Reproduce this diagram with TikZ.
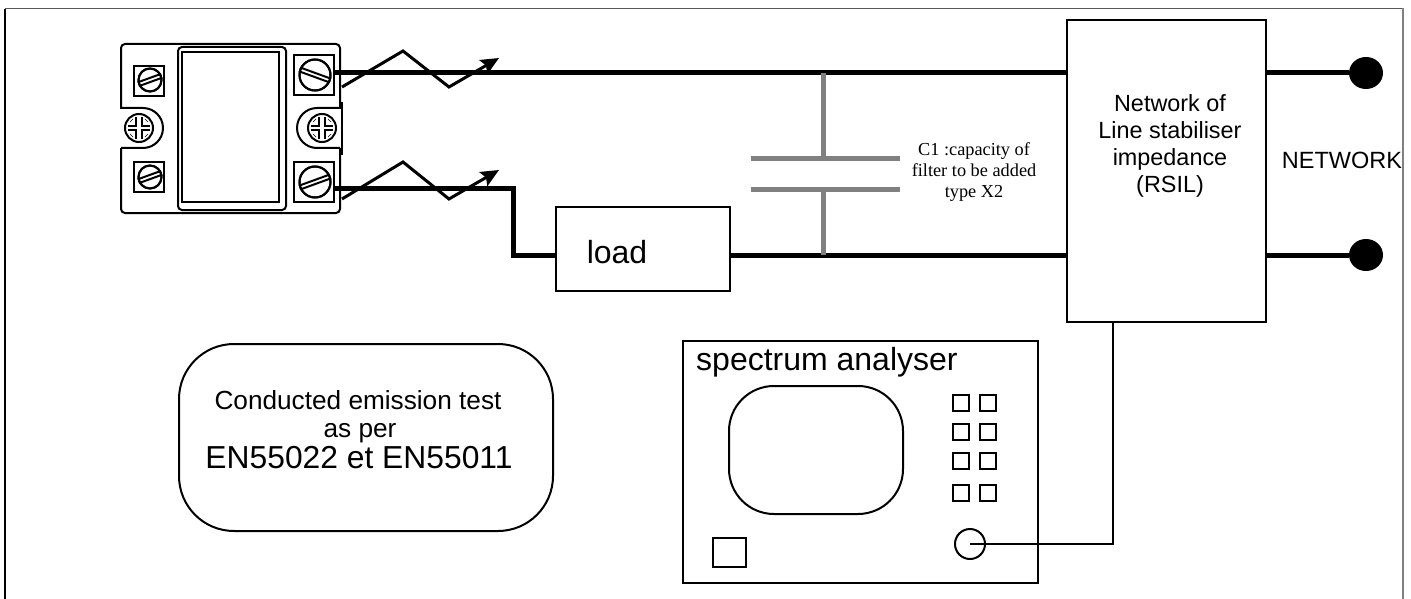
\documentclass[tikz,border=0pt]{standalone}
\usepackage{fontspec}
\setmainfont{Liberation Sans}
\newfontfamily\serifc{Liberation Serif}
\usetikzlibrary{arrows.meta,shapes.geometric}
\definecolor{capgray}{HTML}{808080}
\tikzset{
 x=1pt,y=-1pt,
 box/.style={draw=black,line width=2.2pt,fill=white,inner sep=0pt},
 wire/.style={line width=5pt,black},
 zig/.style={line width=3pt,black,line join=miter,-{Stealth[length=18pt,width=16pt,inset=3pt]}},
 capline/.style={line width=5pt,capgray},
 keybox/.style={draw=black,line width=2pt,fill=white,inner sep=0pt,minimum width=16pt,minimum height=16pt},
 dot/.style={ellipse,fill=black,inner sep=0pt,minimum width=34pt,minimum height=32pt},
 lbl/.style={font=\fontsize{23.4}{27}\selectfont,align=center,inner sep=0pt},
}
\newcommand{\slotscrew}[4]{% x y r angle
 \draw[line width=2pt,fill=white] (#1,#2) circle[radius=#3];
 \draw[line width=2pt,fill=white,rotate around={#4:(#1,#2)}] (#1-#3,#2-2) rectangle (#1+#3,#2+2);
 \draw[line width=2pt] (#1,#2) circle[radius=#3];
}
\newcommand{\crossscrew}[2]{% x y
 \draw[line width=2pt,fill=white] (#1,#2) circle[radius=14];
 \draw[line width=1.2pt] (#1-11,#2-2) -- (#1-3,#2-2) -- (#1-3,#2-11) (#1+3,#2-11) -- (#1+3,#2-2) -- (#1+11,#2-2)
   (#1-11,#2+2) -- (#1-3,#2+2) -- (#1-3,#2+11) (#1+3,#2+11) -- (#1+3,#2+2) -- (#1+11,#2+2);
 \draw[line width=.7pt] (#1+6,#2-9) -- (#1+9,#2-6) (#1-6,#2-9) -- (#1-9,#2-6) (#1+6,#2+9) -- (#1+9,#2+6) (#1-6,#2+9) -- (#1-9,#2+6);
}
\begin{document}
\begin{tikzpicture}
\useasboundingbox (0,0) rectangle (1411,599);
\fill[white] (0,0) rectangle (1411,599);
\draw[line width=1.4pt,black] (5,599) -- (5,9);
\draw[line width=1.6pt,black!65] (5,8.5) -- (1403,8.5);
\draw[line width=2pt,capgray] (1403,8) -- (1403,599);
% device
\draw[line width=2pt,rounded corners=4pt,fill=white] (121,44) rectangle (340,213);
\draw[line width=2pt,rounded corners=4pt,fill=white] (178,47) rectangle (286,210);
\draw[line width=2.4pt] (182,52) rectangle (279,202);
\draw[line width=2.4pt] (134,66) rectangle (164,96);
\draw[line width=2.4pt] (134,162) rectangle (164,192);
\draw[line width=2.4pt] (294,55) rectangle (334,95);
\draw[line width=2.4pt] (294,162) rectangle (334,202);
\slotscrew{150}{80}{11.5}{20}
\slotscrew{150}{177}{11.5}{20}
\slotscrew{315}{75}{15.5}{-20}
\slotscrew{315}{182}{15.5}{20}
\fill[white] (120,109) rectangle (143,148);
\draw[line width=2pt] (121,108) -- (143,108) arc[start angle=-90,end angle=90,radius=20] -- (121,148);
\fill[white] (317,109) rectangle (341,148);
\draw[line width=2pt] (340,108) -- (317,108) arc[start angle=-90,end angle=-270,radius=20] -- (340,148);
\draw[line width=2.4pt] (342,102) -- (342,155);
\crossscrew{139}{128}
\crossscrew{322}{128}
% named parts
\node[box,minimum width=199pt,minimum height=302pt] (rsil) at (1166.5,171) {};
\node[lbl] (rsiltext) at (1170,146) {Network of\\Line stabiliser\\impedance\\(RSIL)};
\node[box,minimum width=174pt,minimum height=84pt] (load) at (643,249) {};
\node[font=\fontsize{32}{36}\selectfont,inner sep=0pt] (loadtext) at (617,252) {load};
\node[dot] (n1) at (1366,73) {};
\node[dot] (n2) at (1366,255) {};
\node[font=\fontsize{23.5}{26}\selectfont,inner sep=0pt] (nettext) at (1342,160) {NETWORK};
\coordinate (dev1) at (334,73);
\coordinate (dev2) at (334,188);
\coordinate (bend1) at (513,188);
\coordinate (bend2) at (513,255);
% wires
\draw[wire] (dev1) -- (rsil.west |- dev1);
\draw[wire] (rsil.east |- n1) -- (n1);
\draw[wire] (rsil.east |- n2) -- (n2);
\draw[wire,line join=miter] (dev2) -- (bend1) -- (bend2) -- (load.west |- bend2);
\draw[wire] (load.east |- n2) -- (rsil.west |- n2);
% capacitor
\coordinate (capt) at (823,73);
\coordinate (capb) at (823,255);
\coordinate (p1l) at (751,159);
\coordinate (p1r) at (900,159);
\coordinate (p2l) at (751,189);
\coordinate (p2r) at (900,189);
\draw[capline] (capt) -- (capt |- p1l);
\draw[capline] (capb) -- (capb |- p2l);
\draw[capline] (p1l) -- (p1r);
\draw[capline] (p2l) -- (p2r);
\node[font=\fontsize{18.3}{21}\selectfont\serifc,align=center,inner sep=0pt] (c1text) at (974,172) {C1 :capacity of\\filter to be added\\type X2};
% zigzags
\coordinate (z1a) at (342,87); \coordinate (z1b) at (403,51); \coordinate (z1c) at (449,87); \coordinate (z1d) at (499,58);
\coordinate (z2a) at (342,199); \coordinate (z2b) at (403,162); \coordinate (z2c) at (449,199); \coordinate (z2d) at (499,170);
\draw[zig] (z1a) -- (z1b) -- (z1c) -- (z1d);
\draw[zig] (z2a) -- (z2b) -- (z2c) -- (z2d);
% note
\node[draw=black,line width=2pt,rounded corners=55pt,minimum width=374pt,minimum height=187pt] (note) at (366,437.5) {};
\node[font=\fontsize{26.2}{30}\selectfont,inner sep=0pt] (t1) at (358,400) {Conducted emission test};
\node[font=\fontsize{26.2}{30}\selectfont,inner sep=0pt] (t2) at (360,433) {as per};
\node[font=\fontsize{31.8}{36}\selectfont,inner sep=0pt] (t3) at (359,458) {EN55022 et EN55011};
% analyser
\node[box,minimum width=355pt,minimum height=242pt] (sa) at (860.5,462) {};
\node[font=\fontsize{32}{36}\selectfont,inner sep=0pt,anchor=west] (satext) at (696,362) {spectrum analyser};
\node[draw=black,line width=2pt,rounded corners=45pt,minimum width=174pt,minimum height=128pt] (screen) at (816,450) {};
\foreach \k/\cx/\cy in {a/961/402.5,b/988/402.5,c/961/431.5,d/988/431.5,e/961/460.5,f/988/460.5,g/961/492.5,h/988/492.5}
  \node[keybox] (k\k) at (\cx,\cy) {};
\node[draw=black,line width=2pt,minimum width=33pt,minimum height=29pt,inner sep=0pt] (sq) at (729.5,552.5) {};
\node[circle,draw=black,line width=2pt,minimum size=30pt,inner sep=0pt] (port) at (970,544) {};
\coordinate (portc) at (970,544);
\coordinate (bend3) at (1113,544);
\draw[line width=2.4pt] (rsil.south -| bend3) -- (bend3) -- (portc);
\end{tikzpicture}
\end{document}
